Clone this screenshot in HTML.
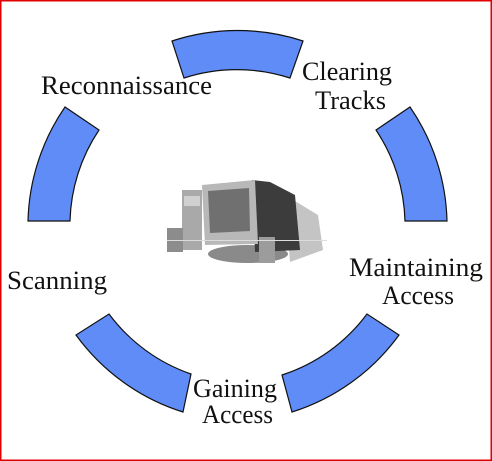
<!DOCTYPE html>
<html><head><meta charset="utf-8"><style>
html,body{margin:0;padding:0;background:#fff}
svg{display:block}
text{font-family:"Liberation Serif",serif;font-size:26px;fill:#111}
</style></head><body>
<svg width="492" height="461" viewBox="0 0 492 461" xmlns="http://www.w3.org/2000/svg">
<rect x="0.75" y="0.75" width="490.5" height="459.5" fill="#fff" stroke="#e00000" stroke-width="1.5"/>
<g fill="#5f8cf7" stroke="#111" stroke-width="1.2">
<path d="M172,41 A210,210 0 0 1 303,41 L290,78 A172,172 0 0 0 184,78 Z"/>
<path d="M28,221 A210,210 0 0 1 65,107 L99,130 A172,172 0 0 0 70,221 Z"/>
<path d="M410,107 A210,210 0 0 1 447,221 L405,221 A172,172 0 0 0 376,130 Z"/>
<path d="M76,335 A210,210 0 0 0 183,412 L191,374 A172,172 0 0 1 109,314 Z"/>
<path d="M399,335 A210,210 0 0 1 292,412 L282,375 A172,172 0 0 0 367,314 Z"/>
</g>
<g>
<path d="M285,195 L318,215 L323,250 L290,262 Z" fill="#c4c4c4"/>
<ellipse cx="248" cy="254" rx="40" ry="9" fill="#8a8a8a"/>
<rect x="182" y="190" width="20" height="60" fill="#a9a9a9"/>
<rect x="184" y="196" width="16" height="10" fill="#d0d0d0"/>
<path d="M252,180 L270,182 L295,195 L300,250 L255,252 Z" fill="#3c3c3c"/>
<path d="M202,185 L255,180 L258,244 L205,245 Z" fill="#b8b8b8"/>
<path d="M208,191 L249,188 L250,231 L210,233 Z" fill="#707070"/>
<rect x="167" y="228" width="16" height="24" fill="#8c8c8c"/>
<rect x="259" y="237" width="16" height="26" fill="#9c9c9c"/>
<rect x="167" y="240" width="160" height="1" fill="#ddd"/>
</g>
<text x="41" y="94" textLength="171" lengthAdjust="spacingAndGlyphs">Reconnaissance</text>
<text x="302" y="80" textLength="90" lengthAdjust="spacingAndGlyphs">Clearing</text>
<text x="315" y="109" textLength="71" lengthAdjust="spacingAndGlyphs">Tracks</text>
<text x="349" y="276" textLength="134" lengthAdjust="spacingAndGlyphs">Maintaining</text>
<text x="382" y="304" textLength="72" lengthAdjust="spacingAndGlyphs">Access</text>
<text x="7" y="289" textLength="100" lengthAdjust="spacingAndGlyphs">Scanning</text>
<text x="193" y="397" textLength="84" lengthAdjust="spacingAndGlyphs">Gaining</text>
<text x="202" y="423" textLength="71" lengthAdjust="spacingAndGlyphs">Access</text>
</svg>
</body></html>
